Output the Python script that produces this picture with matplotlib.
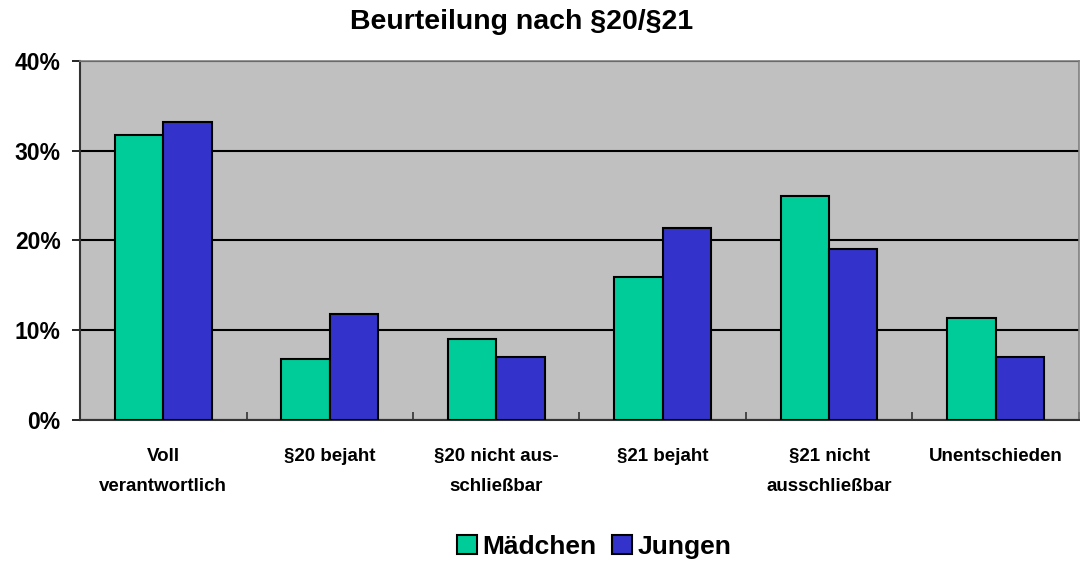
import numpy as np
import matplotlib.pyplot as plt
from matplotlib.ticker import FixedLocator, PercentFormatter

plt.rcParams['font.family'] = ['Liberation Sans', 'DejaVu Sans']

categories = ["Voll\nverantwortlich", "§20 bejaht", "§20 nicht aus-\nschließbar",
              "§21 bejaht", "§21 nicht\nausschließbar", "Unentschieden"]
maedchen = [31.7, 6.8, 9.0, 15.9, 25.0, 11.4]
jungen = [33.2, 11.8, 7.0, 21.4, 19.0, 7.0]
series_names = ["Mädchen", "Jungen"]

fig = plt.figure(figsize=(10.8, 5.62), dpi=100)
ax = fig.add_axes([0.0741, 0.2527, 0.9249, 0.6388])
ax.set_facecolor('#C0C0C0')

x = np.arange(len(categories))
w = 0.29
ax.bar(x - w / 2, maedchen, w, color='#00CC99', edgecolor='black', linewidth=1.5,
       label=series_names[0], zorder=3)
ax.bar(x + w / 2, jungen, w, color='#3333CC', edgecolor='black', linewidth=1.5,
       label=series_names[1], zorder=3)

ax.set_xlim(-0.5, len(categories) - 0.5)
ax.set_ylim(0, 40)
ax.set_yticks([0, 10, 20, 30, 40])
ax.yaxis.set_major_formatter(PercentFormatter(decimals=0))
ax.yaxis.grid(True, color='black', linewidth=1.5, zorder=1)

# category labels centered, ticks between the groups
ax.set_xticks(x)
ax.set_xticklabels(categories, fontsize=13.5, fontweight='bold', linespacing=2.05)
ax.tick_params(axis='x', length=0, pad=20)
ax.xaxis.set_minor_locator(FixedLocator(np.arange(-0.5, len(categories), 1.0)))
ax.tick_params(axis='x', which='minor', direction='in', length=6, width=1.2, color='#333333')
ax.tick_params(axis='y', direction='out', length=6, width=1.2, labelsize=16.5, pad=8)
for lbl in ax.get_yticklabels():
    lbl.set_fontweight('bold')

for side in ['top', 'right']:
    ax.spines[side].set_color('#808080')
    ax.spines[side].set_linewidth(1.2)
for side in ['left', 'bottom']:
    ax.spines[side].set_color('#333333')
    ax.spines[side].set_linewidth(1.5)

fig.text(0.483, 1 - 22 / 562, "Beurteilung nach §20/§21", ha='center', va='center',
         fontsize=20.5, fontweight='bold')

fig.legend(loc='center', bbox_to_anchor=(0.55, 1 - 547 / 562), ncol=2, frameon=False,
           prop={'size': 19, 'weight': 'bold'}, handlelength=0.75, handleheight=0.75,
           handletextpad=0.2, columnspacing=0.6, borderpad=0)

fig.savefig('out.png', dpi=100)
